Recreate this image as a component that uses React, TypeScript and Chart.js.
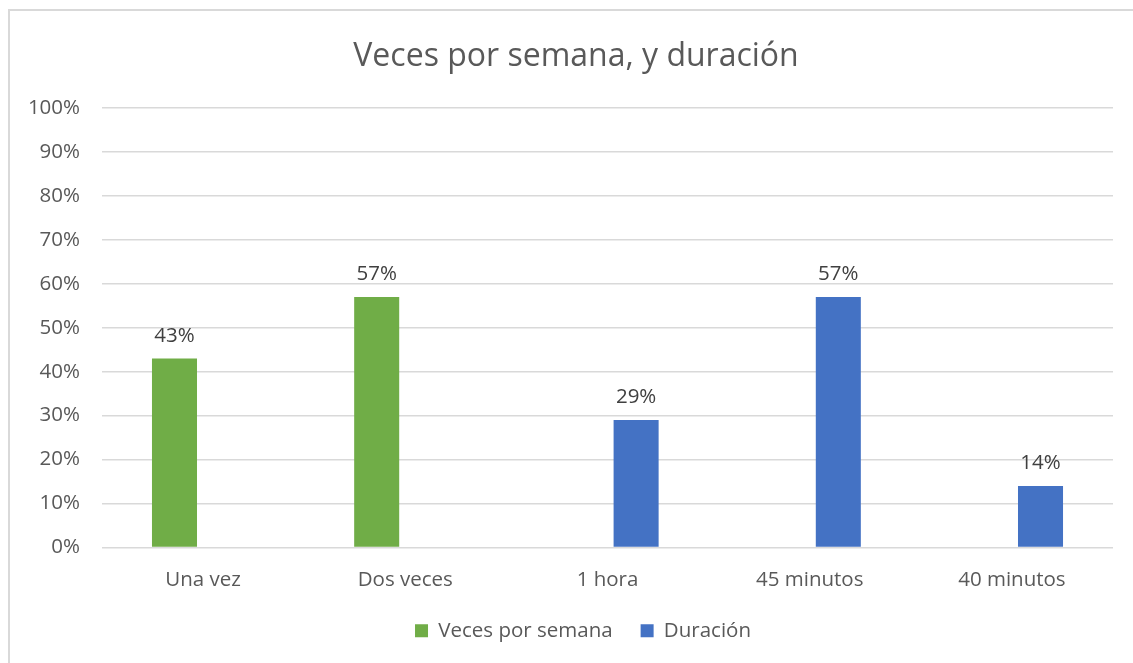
import React, { useEffect, useRef } from 'react';
import { Chart, registerables } from 'chart.js';

Chart.register(...registerables);

const chartTitle = 'Veces por semana, y duración';
const categories = ['Una vez', 'Dos veces', '1 hora', '45 minutos', '40 minutos'];
const seriesNames = ['Veces por semana', 'Duración'];
const vecesPorSemana: (number | null)[] = [43, 57, null, null, null];
const duracion: (number | null)[] = [null, null, 29, 57, 14];
const yMin = 0;
const yMax = 100;
const yStep = 10;

const FONT = "'Open Sans', sans-serif";
const TEXT = '#595959';
const GRID = '#d9d9d9';

const dataLabels = {
  id: 'dataLabels',
  afterDatasetsDraw(chart: any) {
    const ctx = chart.ctx;
    ctx.save();
    ctx.font = `20.5px ${FONT}`;
    ctx.fillStyle = '#404040';
    ctx.textAlign = 'center';
    ctx.textBaseline = 'alphabetic';
    chart.data.datasets.forEach((ds: any, i: number) => {
      const meta = chart.getDatasetMeta(i);
      meta.data.forEach((el: any, j: number) => {
        const v = ds.data[j];
        if (v == null) return;
        ctx.fillText(`${v}%`, el.x, el.y - 17);
      });
    });
    ctx.restore();
  },
};

const legendShift = {
  id: 'legendShift',
  afterLayout(chart: any) {
    if (chart.legend) {
      chart.legend.left += 7;
      chart.legend.right += 7;
    }
  },
};

export default function App() {
  const ref = useRef<HTMLCanvasElement | null>(null);

  useEffect(() => {
    if (!ref.current) return;
    const chart = new Chart(ref.current, {
      type: 'bar',
      data: {
        labels: categories,
        datasets: [
          {
            label: seriesNames[0],
            data: vecesPorSemana,
            backgroundColor: '#70AD47',
            categoryPercentage: 0.566,
            barPercentage: 0.787,
          },
          {
            label: seriesNames[1],
            data: duracion,
            backgroundColor: '#4472C4',
            categoryPercentage: 0.566,
            barPercentage: 0.787,
          },
        ],
      },
      options: {
        responsive: false,
        animation: false,
        devicePixelRatio: 1,
        layout: { padding: { left: 19, right: 0, top: 0, bottom: 12 } },
        plugins: {
          title: {
            display: true,
            text: chartTitle,
            color: TEXT,
            font: { family: FONT, size: 32, weight: 'normal' },
            padding: { top: 38.1, bottom: 31.5 },
          },
          legend: {
            position: 'bottom',
            labels: {
              boxWidth: 13,
              boxHeight: 13,
              padding: 28,
              color: TEXT,
              font: { family: FONT, size: 20.5 },
            },
          },
          tooltip: { enabled: false },
        },
        scales: {
          x: {
            grid: { display: false, drawTicks: false },
            border: { display: false },
            ticks: { color: TEXT, font: { family: FONT, size: 20.5 }, padding: 20.4, maxRotation: 0 },
            afterFit: (s: any) => {
              s.height = 45;
            },
          },
          y: {
            min: yMin,
            max: yMax,
            grid: { color: GRID, lineWidth: 1.5, drawTicks: false },
            border: { display: false },
            ticks: {
              stepSize: yStep,
              color: TEXT,
              font: { family: FONT, size: 20.5 },
              padding: 22,
              callback: (v: any) => `${v}%`,
            },
            afterFit: (s: any) => {
              s.width = 83;
            },
          },
          yRight: {
            position: 'right',
            display: true,
            grid: { display: false, drawTicks: false },
            border: { display: false },
            ticks: { display: false },
            afterFit: (s: any) => {
              s.width = 20;
            },
          },
        },
      },
      plugins: [dataLabels, legendShift],
    } as any);
    return () => chart.destroy();
  }, []);

  return (
    <div style={{ position: 'fixed', left: 0, top: 0, width: 1133, height: 663, overflow: 'hidden', background: '#fff' }}>
      <div
        style={{
          position: 'absolute',
          left: 8,
          top: 9,
          width: 1200,
          height: 700,
          border: `2px solid ${GRID}`,
          boxSizing: 'border-box',
        }}
      />
      <canvas ref={ref} width={1133} height={663} style={{ position: 'absolute', left: 0, top: 0, width: 1133, height: 663 }} />
    </div>
  );
}
